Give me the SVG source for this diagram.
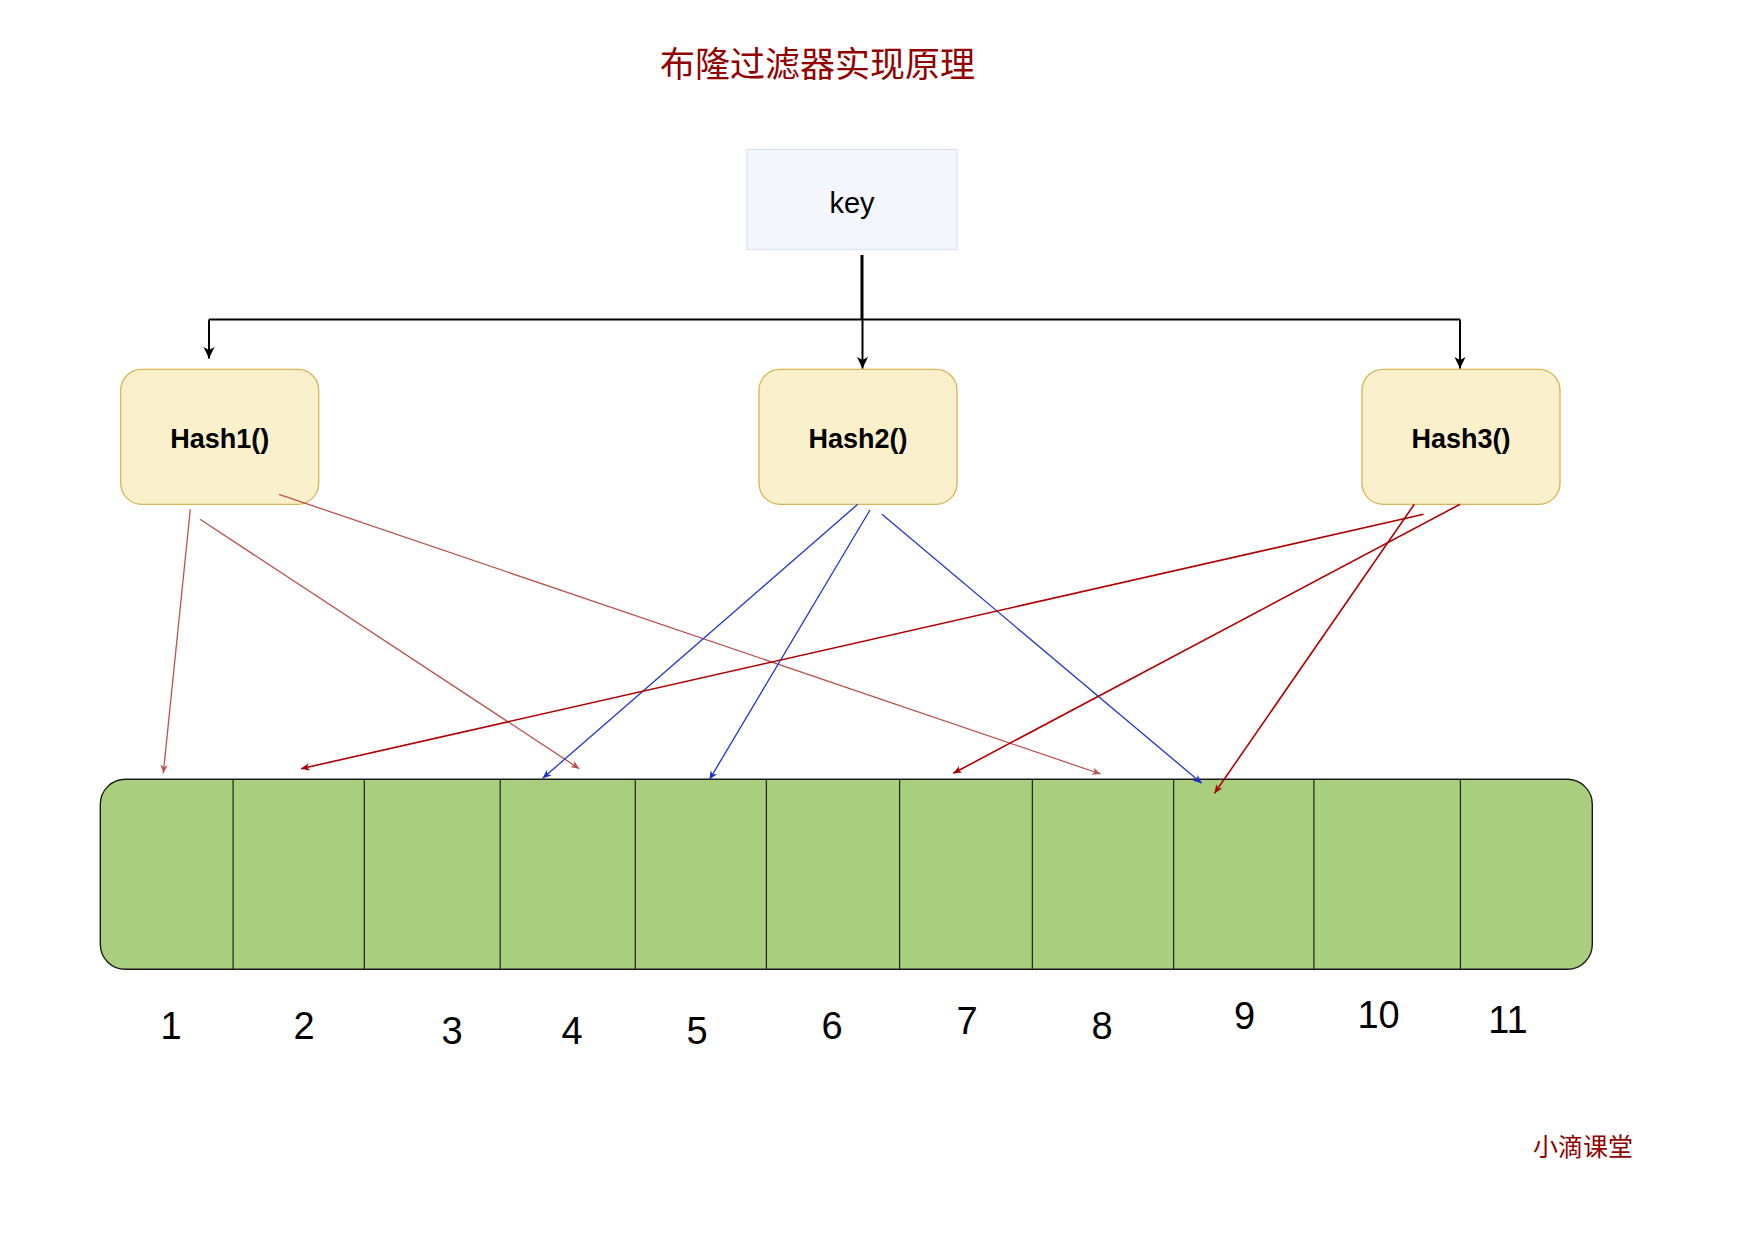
<svg xmlns="http://www.w3.org/2000/svg" width="1753" height="1241" viewBox="0 0 1753 1241">
<style>
.title{font-family:"Noto Sans CJK SC","Liberation Sans",sans-serif;font-size:35px;fill:#920000}
.brand{font-family:"Noto Sans CJK SC","Liberation Sans",sans-serif;font-size:25px;fill:#920000}
.hash{fill:#FBF0CC;stroke:#D6B656;stroke-width:1.3}
.hlabel{font-family:"Liberation Sans",Arial,sans-serif;font-size:27px;font-weight:bold;fill:#000;text-anchor:middle}
.num{font-family:"Liberation Sans",Arial,sans-serif;font-size:38px;fill:#000;text-anchor:middle}
.div{stroke:#2a2a2a;stroke-width:1.3}
.blk{stroke:#000;stroke-width:2;fill:none}
.c1{stroke:#B85450;stroke-width:1.3;fill:none;marker-end:url(#m1)}
.c2{stroke:#2233D0;stroke-width:1.3;fill:none;marker-end:url(#m2)}
.c3{stroke:#B00000;stroke-width:1.6;fill:none;marker-end:url(#m3)}
</style>
<defs>
<marker id="mb" markerUnits="userSpaceOnUse" markerWidth="12" markerHeight="12" viewBox="0 0 12 12" refX="11.5" refY="6" orient="auto"><path d="M0,0.5 L11.5,6 L0,11.5 L3,6 z" fill="#000"/></marker>
<marker id="m1" markerUnits="userSpaceOnUse" markerWidth="9" markerHeight="9" viewBox="0 0 9 9" refX="8.5" refY="4.5" orient="auto"><path d="M0,0.8 L8.5,4.5 L0,8.2 L2.3,4.5 z" fill="#B85450"/></marker>
<marker id="m2" markerUnits="userSpaceOnUse" markerWidth="9" markerHeight="9" viewBox="0 0 9 9" refX="8.5" refY="4.5" orient="auto"><path d="M0,0.8 L8.5,4.5 L0,8.2 L2.3,4.5 z" fill="#1A2FD0"/></marker>
<marker id="m3" markerUnits="userSpaceOnUse" markerWidth="9" markerHeight="9" viewBox="0 0 9 9" refX="8.5" refY="4.5" orient="auto"><path d="M0,0.8 L8.5,4.5 L0,8.2 L2.3,4.5 z" fill="#A80000"/></marker>
</defs>
<rect width="1753" height="1241" fill="#fff"/>
<text class="title" x="660" y="77">布隆过滤器实现原理</text>
<g id="key">
<rect x="747" y="149.5" width="210" height="100" fill="#F4F7FD" stroke="#DCE4F2" stroke-width="1.3"/>
<text x="852" y="213" font-family="'Liberation Sans',Arial,sans-serif" font-size="29" text-anchor="middle" fill="#000">key</text>
</g>
<g id="hash1">
<rect class="hash" x="120.7" y="369.3" width="198" height="135" rx="21"/>
<text class="hlabel" x="219.7" y="448.3">Hash1()</text>
</g>
<g id="hash2">
<rect class="hash" x="759" y="369.3" width="198" height="135" rx="21"/>
<text class="hlabel" x="858" y="448.3">Hash2()</text>
</g>
<g id="hash3">
<rect class="hash" x="1362" y="369.3" width="198" height="135" rx="21"/>
<text class="hlabel" x="1461" y="448.3">Hash3()</text>
</g>
<g id="bit-array">
<rect x="100.3" y="779.3" width="1492" height="190" rx="25" fill="#A9CF7E" stroke="#1a1a1a" stroke-width="1.4"/>
<line class="div" x1="233.1" y1="779.3" x2="233.1" y2="969.3"/>
<line class="div" x1="364.3" y1="779.3" x2="364.3" y2="969.3"/>
<line class="div" x1="500.2" y1="779.3" x2="500.2" y2="969.3"/>
<line class="div" x1="635.3" y1="779.3" x2="635.3" y2="969.3"/>
<line class="div" x1="766.4" y1="779.3" x2="766.4" y2="969.3"/>
<line class="div" x1="899.6" y1="779.3" x2="899.6" y2="969.3"/>
<line class="div" x1="1032.4" y1="779.3" x2="1032.4" y2="969.3"/>
<line class="div" x1="1173.6" y1="779.3" x2="1173.6" y2="969.3"/>
<line class="div" x1="1313.9" y1="779.3" x2="1313.9" y2="969.3"/>
<line class="div" x1="1460.4" y1="779.3" x2="1460.4" y2="969.3"/>
</g>
<g id="indices">
<text class="num" x="171" y="1039.3">1</text>
<text class="num" x="304" y="1039">2</text>
<text class="num" x="452" y="1044">3</text>
<text class="num" x="572" y="1044">4</text>
<text class="num" x="697" y="1044">5</text>
<text class="num" x="832" y="1039">6</text>
<text class="num" x="967" y="1034">7</text>
<text class="num" x="1102" y="1039">8</text>
<text class="num" x="1244.5" y="1028.5">9</text>
<text class="num" x="1378.6" y="1028">10</text>
<text class="num" x="1508" y="1033">11</text>
</g>
<text class="brand" x="1533" y="1156">小滴课堂</text>
<g id="connectors">
<line x1="862" y1="255" x2="862" y2="319.5" stroke="#000" stroke-width="3"/>
<polyline class="blk" points="209,319.5 1460,319.5"/>
<line class="blk" x1="209" y1="319.5" x2="209" y2="358.5" marker-end="url(#mb)"/>
<line class="blk" x1="862.5" y1="319.5" x2="862.5" y2="368.5" stroke-width="1.6" marker-end="url(#mb)"/>
<line class="blk" x1="1460" y1="319.5" x2="1460" y2="368.5" marker-end="url(#mb)"/>
<line class="c1" x1="190.3" y1="509.3" x2="163.3" y2="773.3"/>
<line class="c1" x1="200" y1="519.3" x2="579.3" y2="768.7"/>
<line class="c1" x1="279" y1="494.3" x2="1100.7" y2="774"/>
<line class="c2" x1="857.7" y1="504.3" x2="542.7" y2="778.3"/>
<line class="c2" x1="870" y1="510" x2="709.5" y2="779.5"/>
<line class="c2" x1="882" y1="514.3" x2="1201.7" y2="783.3"/>
<line class="c3" x1="1423.6" y1="514.3" x2="301" y2="768.7"/>
<line class="c3" x1="1460" y1="504.3" x2="953.3" y2="773.3"/>
<line class="c3" x1="1414.3" y1="504.3" x2="1214.5" y2="793.3"/>
</g>
</svg>
